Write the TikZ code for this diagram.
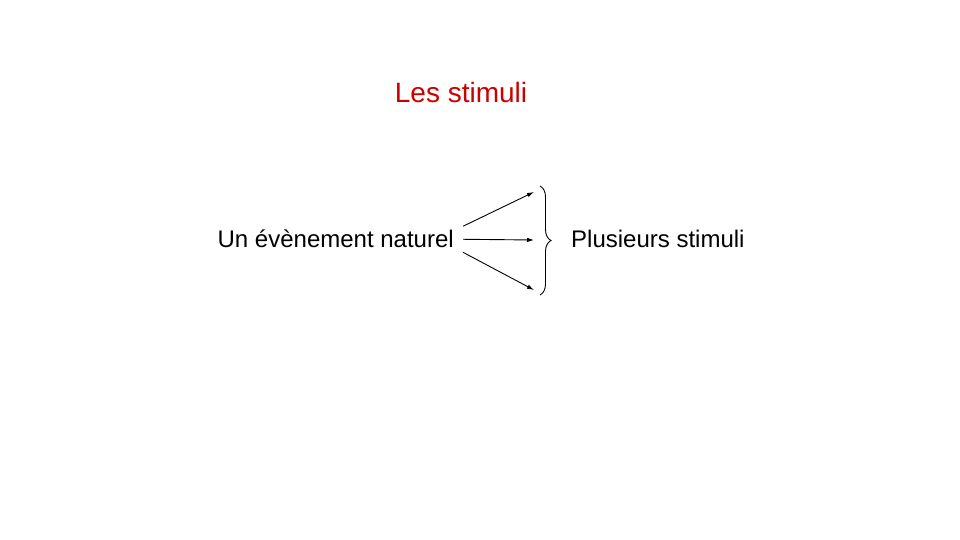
\documentclass[tikz,border=0pt]{standalone}
\usepackage{fontspec}
\setmainfont{Liberation Sans}
\usetikzlibrary{decorations.pathreplacing,arrows.meta}
\definecolor{titlered}{RGB}{204,0,0}

\begin{document}
\begin{tikzpicture}[x=1pt,y=-1pt,
    label/.style={inner sep=0pt,font=\fontsize{24}{28}\selectfont},
    link/.style={line width=0.9pt,-{Latex[length=7pt,width=4.5pt]}}]
\useasboundingbox[fill=white] (0,0) rectangle (960,540);
\node[inner sep=0pt,anchor=base,text=titlered,font=\fontsize{28}{32}\selectfont]
    (title) at (461,103) {Les stimuli};
\node[label,anchor=base east] (event) at (454,247) {Un évènement naturel};
\node[label,anchor=base west] (stimuli) at (571,247) {Plusieurs stimuli};
\coordinate (s1) at (534,192);
\coordinate (s2) at (534,240);
\coordinate (s3) at (534,290);
\draw[link] ([xshift=9pt,yshift=12pt]event.east) -- (s1);
\draw[link] ([xshift=9pt,yshift=-1pt]event.east) -- (s2);
\draw[link] ([xshift=9pt,yshift=-14pt]event.east) -- (s3);
\draw[line width=0.9pt,decorate,decoration={brace,amplitude=11pt}] (540,186) -- (540,295);
\end{tikzpicture}
\end{document}
